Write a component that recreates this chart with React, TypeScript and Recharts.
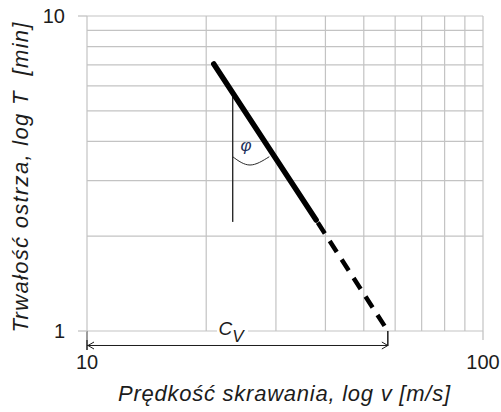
import React from 'react';
import { ComposedChart, Line, XAxis, YAxis, CartesianGrid, ReferenceDot, ReferenceLine } from 'recharts';

// Log-log tool life chart (Taylor)
const xTicks = [10, 20, 30, 40, 50, 60, 70, 80, 90, 100];
const yTicks = [1, 2, 3, 4, 5, 6, 7, 8, 9, 10];
const xLabelled = [10, 100];
const yLabelled = [1, 10];

// solid part of T(v)
const solidV = [20.9, 37.9];
const solidT = [7.04, 2.25];
// dashed extrapolation down to T = 1
const dashV = [37.9, 57.5];
const dashT = [2.25, 1];
// vertical helper line for the angle
const vertV = [23.33, 23.33];
const vertT = [5.54, 2.22];
// angle arc
const arcV = [23.33, 25.8, 28.86];
const arcT = [3.575, 3.365, 3.575];

const CV_V = 57.5; // intercept with T = 1
const CV_LABEL_V = 23.23;
const ARROW_T = 0.8995;
const PHI_V = 25.2;
const PHI_T = 3.867;

const toRows = (vs: number[], ts: number[]) => vs.map((v, i) => ({ v, T: ts[i] }));
const solidData = toRows(solidV, solidT);
const dashData = toRows(dashV, dashT);
const vertData = toRows(vertV, vertT);
const arcData = toRows(arcV, arcT);

const FONT = '"Liberation Sans", Arial, sans-serif';
const GRID = '#c3c3c3';
const INK = '#1c1c1c';

const XTick = (props: any) => {
  const { x, y, payload } = props;
  if (!xLabelled.includes(payload.value)) return <g />;
  return (
    <g>
      <line x1={x} x2={x} y1={y} y2={y + 9} stroke={GRID} strokeWidth={1.3} />
      <text x={x} y={y + 38} textAnchor="middle" fontSize={20} fill={INK} fontFamily={FONT}>
        {payload.value}
      </text>
    </g>
  );
};

const YTick = (props: any) => {
  const { x, y, payload } = props;
  if (!yLabelled.includes(payload.value)) return <g />;
  return (
    <g>
      <line x1={x - 9} x2={x} y1={y} y2={y} stroke={GRID} strokeWidth={1.3} />
      <text x={x - 22} y={y + 7} textAnchor="end" fontSize={20} fill={INK} fontFamily={FONT}>
        {payload.value}
      </text>
    </g>
  );
};

const XTitle = (props: any) => {
  const { x, y, width } = props.viewBox;
  return (
    <text
      x={x + width / 2 - 1}
      y={y + 70}
      textAnchor="middle"
      fontSize={22}
      fontStyle="italic"
      fill={INK}
      fontFamily={FONT}
      textLength={332}
    >
      Prędkość skrawania, log v [m/s]
    </text>
  );
};

const YTitle = (props: any) => {
  const { x, y, width, height } = props.viewBox;
  const cx = x + width - 59;
  const cy = y + height / 2 + 4;
  return (
    <text
      x={cx}
      y={cy}
      transform={`rotate(-90, ${cx}, ${cy})`}
      textAnchor="middle"
      fontSize={22}
      fontStyle="italic"
      fill={INK}
      fontFamily={FONT}
      textLength={310}
      style={{ whiteSpace: 'pre' }}
    >
      {'Trwałość ostrza, log T  [min]'}
    </text>
  );
};

const LeftEnd = (p: any) => {
  const { cx, cy } = p;
  return (
    <g>
      <line x1={cx} x2={cx} y1={cy} y2={cy + 19} stroke={INK} strokeWidth={1.5} />
      <polyline points={`${cx + 7},${cy + 11} ${cx + 1},${cy + 14.5} ${cx + 7},${cy + 18}`} fill="none" stroke={INK} strokeWidth={1} />
    </g>
  );
};

const RightEnd = (p: any) => {
  const { cx, cy } = p;
  return (
    <g>
      <line x1={cx} x2={cx} y1={cy} y2={cy + 15} stroke={INK} strokeWidth={1.5} />
      <polyline points={`${cx - 6},${cy + 11} ${cx},${cy + 14.5} ${cx - 6},${cy + 18}`} fill="none" stroke={INK} strokeWidth={1} />
    </g>
  );
};

const CvLabel = (p: any) => {
  const { cx, cy } = p;
  return (
    <g>
      <rect x={cx - 15} y={cy - 2} width={31} height={4} fill="#fff" />
      <text x={cx - 13.5} y={cy + 4} fontSize={19} fontStyle="italic" fill={INK} fontFamily={FONT}>
        C
        <tspan fontSize={17} dy={7}>V</tspan>
      </text>
    </g>
  );
};

const PhiLabel = (p: any) => {
  const { cx, cy } = p;
  return (
    <text x={cx} y={cy + 5} textAnchor="middle" fontSize={17} fontStyle="italic" fill="#1d2f5a" fontFamily={FONT}>
      φ
    </text>
  );
};

export default function App() {
  return (
    <div style={{ position: 'absolute', left: 0, top: 0, width: 501, height: 412, background: '#fff' }}>
      <ComposedChart width={501} height={412} margin={{ top: 16, right: 18, bottom: 21, left: 27 }}>
        <CartesianGrid stroke={GRID} strokeWidth={1.2} />
        <XAxis
          dataKey="v"
          type="number"
          scale="log"
          domain={[10, 100]}
          ticks={xTicks}
          allowDataOverflow
          height={60}
          tickSize={0}
          tickMargin={0}
          tickLine={false}
          axisLine={false}
          tick={<XTick />}
          interval={0}
          label={XTitle}
        />
        <YAxis
          dataKey="T"
          type="number"
          scale="log"
          domain={[1, 10]}
          ticks={yTicks}
          allowDataOverflow
          width={60}
          tickSize={0}
          tickMargin={0}
          tickLine={false}
          axisLine={false}
          tick={<YTick />}
          interval={0}
          label={YTitle}
        />
        <ReferenceLine
          segment={[{ x: 10, y: ARROW_T }, { x: CV_V, y: ARROW_T }]}
          ifOverflow="visible"
          stroke={INK}
          strokeWidth={1}
        />
        <Line data={vertData} dataKey="T" stroke="#2a2a2a" strokeWidth={1.4} dot={false} activeDot={false} isAnimationActive={false} />
        <Line data={arcData} dataKey="T" type="natural" stroke="#2a2a2a" strokeWidth={1} dot={false} activeDot={false} isAnimationActive={false} />
        <Line data={dashData} dataKey="T" stroke="#000" strokeWidth={4.5} strokeDasharray="0 3 13 6" dot={false} activeDot={false} isAnimationActive={false} />
        <Line data={solidData} dataKey="T" stroke="#000" strokeWidth={5.5} strokeLinecap="round" dot={false} activeDot={false} isAnimationActive={false} />
        <ReferenceDot x={10} y={1} r={0} shape={LeftEnd} />
        <ReferenceDot x={CV_V} y={1} r={0} shape={RightEnd} />
        <ReferenceDot x={CV_LABEL_V} y={1} r={0} shape={CvLabel} />
        <ReferenceDot x={PHI_V} y={PHI_T} r={0} shape={PhiLabel} />
      </ComposedChart>
    </div>
  );
}
